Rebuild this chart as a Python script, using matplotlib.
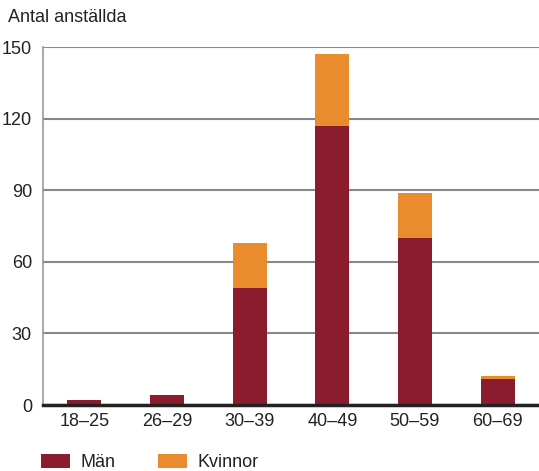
import numpy as np
import matplotlib.pyplot as plt

plt.rcParams['font.family'] = ['Liberation Sans', 'DejaVu Sans']

# Antal anställda per åldersgrupp
aldersgrupper = ['18–25', '26–29', '30–39', '40–49', '50–59', '60–69']
man = [2, 4, 49, 117, 70, 11]
kvinnor = [0, 0, 19, 30, 19, 1]
yticks = [0, 30, 60, 90, 120, 150]

farg_man = '#8b1c2e'
farg_kvinnor = '#ea8b2e'

fig = plt.figure(figsize=(5.39, 4.71), dpi=100)
ax = fig.add_axes([43 / 539, 1 - 405 / 471, 496 / 539, 358 / 471])

x = np.arange(len(aldersgrupper))
b1 = ax.bar(x, man, width=0.41, color=farg_man, label='Män', zorder=3)
b2 = ax.bar(x, kvinnor, width=0.41, bottom=man, color=farg_kvinnor,
            label='Kvinnor', zorder=3)

ax.set_xlim(-0.5, len(aldersgrupper) - 0.5)
ax.set_ylim(0, 150)
ax.set_yticks(yticks)
ax.set_xticks(x)
ax.set_xticklabels(aldersgrupper)
ax.tick_params(axis='both', length=0, labelsize=13, colors='#222222')
ax.tick_params(axis='y', pad=8)
ax.tick_params(axis='x', pad=6)

ax.yaxis.grid(True, color='#888888', linewidth=1.5, zorder=0)
for s in ['top', 'right']:
    ax.spines[s].set_visible(False)
ax.spines['left'].set_color('#999999')
ax.spines['left'].set_linewidth(1.2)
ax.spines['bottom'].set_color('#222222')
ax.spines['bottom'].set_linewidth(2.5)
ax.spines['bottom'].set_zorder(4)

fig.text(8 / 539, 1 - 18 / 471, 'Antal anställda', fontsize=13,
         color='#222222', va='center', ha='left')

fig.legend(handles=[b1, b2], loc='upper left', ncol=2, frameon=False,
           bbox_to_anchor=(25 / 539, 1 - 438 / 471), fontsize=13,
           handlelength=1.6, handleheight=0.8, columnspacing=2.4,
           handletextpad=0.55, labelcolor='#222222')

fig.savefig('out.png', dpi=100)
